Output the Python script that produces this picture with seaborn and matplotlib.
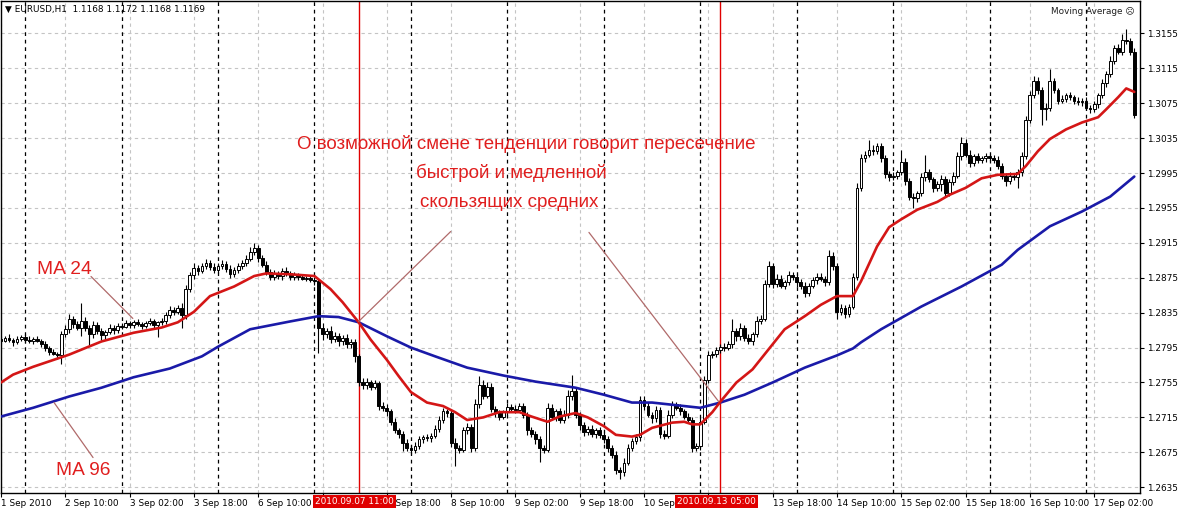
import matplotlib
matplotlib.use("Agg")
import matplotlib.pyplot as plt
import matplotlib.transforms as mtransforms
import numpy as np
import pandas as pd
import seaborn as sns

sns.set_style("white")
plt.rcParams["font.family"] = ["DejaVu Sans"]

# prices are stored as pips above BASE
BASE = 1.2600
PIP = 0.0001

first_open = 205
close_pips = [
    203, 206, 204, 201, 205, 207, 204, 202, 205, 203,
    199, 195, 190, 188, 186, 210, 216, 228, 222, 218,
    226, 218, 210, 221, 214, 209, 213, 218, 215, 220,
    219, 223, 221, 224, 222, 220, 223, 225, 221, 224,
    226, 232, 238, 236, 240, 232, 262, 278, 286, 283,
    289, 292, 287, 284, 289, 291, 285, 279, 284, 288,
    292, 297, 305, 309, 298, 290, 282, 276, 280, 277,
    283, 280, 276, 279, 276, 274, 275, 273, 271, 218,
    210, 214, 205, 208, 203, 206, 199, 201, 185, 156,
    152, 155, 150, 154, 128, 126, 122, 110, 100, 96,
    86, 80, 78, 82, 90, 92, 91, 94, 102, 112,
    122, 120, 86, 80, 78, 100, 104, 80, 130, 152,
    140, 150, 125, 120, 116, 121, 127, 125, 124, 128,
    118, 100, 96, 90, 80, 78, 126, 116, 122, 112,
    118, 140, 145, 118, 106, 98, 102, 96, 100, 95,
    90, 80, 72, 55, 52, 63, 80, 88, 92, 135,
    128, 118, 114, 124, 96, 94, 118, 130, 126, 122,
    116, 112, 80, 82, 110, 158, 186, 188, 192, 196,
    195, 199, 214, 208, 218, 206, 203, 210, 226, 228,
    268, 288, 268, 274, 266, 270, 278, 276, 270, 266,
    258, 266, 272, 276, 274, 270, 300, 288, 236, 240,
    234, 242, 276, 378, 412, 416, 422, 420, 426, 412,
    394, 390, 392, 396, 408, 386, 368, 366, 372, 390,
    396, 388, 378, 382, 388, 372, 385, 392, 414, 430,
    416, 406, 414, 410, 412, 414, 412, 410, 403, 392,
    386, 392, 390, 396, 414, 456, 484, 500, 490, 468,
    470, 500, 490, 478, 480, 484, 482, 478, 476, 478,
    470, 468, 474, 484, 498, 508, 524, 538, 534, 548,
    546, 534, 462,
]
wick_up = [
    3, 2, 4, 2, 3, 2, 3, 4, 2, 3,
    2, 3, 2, 3, 2, 4, 5, 6, 3, 4,
    20, 4, 3, 5, 3, 4, 2, 4, 3, 3,
    3, 4, 2, 3, 4, 2, 3, 4, 3, 2,
    3, 4, 5, 3, 4, 6, 5, 4, 6, 4,
    3, 4, 3, 5, 3, 4, 3, 5, 3, 4,
    3, 4, 5, 6, 4, 3, 4, 3, 4, 3,
    3, 4, 3, 3, 2, 3, 2, 3, 3, 4,
    5, 4, 6, 5, 4, 3, 5, 4, 4, 3,
    4, 5, 3, 4, 3, 5, 4, 3, 4, 3,
    3, 4, 3, 5, 4, 3, 4, 3, 4, 5,
    4, 3, 4, 5, 3, 4, 5, 3, 6, 10,
    6, 5, 4, 3, 4, 3, 4, 3, 4, 3,
    4, 3, 4, 3, 4, 3, 5, 4, 3, 4,
    5, 6, 19, 4, 3, 4, 3, 4, 3, 4,
    3, 4, 3, 4, 3, 5, 4, 3, 4, 5,
    4, 5, 3, 4, 3, 4, 5, 4, 3, 4,
    3, 4, 3, 4, 5, 4, 5, 3, 4, 3,
    4, 3, 14, 4, 5, 3, 4, 3, 5, 4,
    5, 6, 4, 5, 4, 3, 5, 4, 3, 4,
    4, 3, 4, 5, 4, 3, 7, 5, 4, 5,
    4, 3, 5, 6, 5, 4, 11, 5, 4, 3,
    4, 3, 4, 3, 14, 4, 3, 4, 3, 5,
    20, 4, 3, 4, 5, 4, 3, 4, 5, 6,
    4, 5, 3, 4, 3, 4, 3, 4, 5, 4,
    3, 4, 3, 4, 5, 4, 5, 6, 5, 4,
    5, 14, 4, 3, 4, 3, 4, 3, 4, 3,
    4, 3, 4, 3, 5, 4, 5, 4, 5, 6,
    12, 4, 4,
]
wick_dn = [
    3, 2, 3, 4, 2, 3, 4, 2, 3, 2,
    3, 4, 3, 2, 4, 10, 3, 4, 5, 3,
    10, 4, 12, 4, 3, 5, 4, 3, 4, 3,
    3, 2, 4, 3, 2, 4, 3, 2, 4, 14,
    3, 4, 3, 4, 3, 14, 4, 3, 4, 5,
    3, 4, 3, 4, 3, 4, 3, 4, 3, 4,
    3, 4, 3, 4, 5, 3, 4, 3, 4, 3,
    4, 3, 3, 4, 3, 2, 3, 3, 4, 29,
    6, 4, 5, 4, 6, 5, 4, 5, 6, 5,
    4, 5, 4, 3, 5, 4, 5, 4, 3, 5,
    10, 4, 5, 4, 3, 4, 3, 4, 3, 4,
    3, 4, 5, 21, 4, 3, 4, 5, 3, 4,
    4, 3, 4, 5, 4, 3, 4, 3, 4, 3,
    4, 5, 4, 5, 16, 4, 3, 4, 5, 4,
    3, 4, 5, 4, 5, 4, 3, 4, 5, 4,
    4, 5, 4, 5, 8, 4, 3, 4, 3, 4,
    4, 3, 5, 4, 5, 4, 3, 4, 3, 4,
    3, 4, 5, 3, 4, 3, 4, 3, 4, 3,
    4, 3, 4, 5, 4, 3, 4, 5, 3, 4,
    3, 4, 5, 4, 3, 4, 3, 4, 5, 4,
    5, 4, 3, 4, 3, 4, 3, 4, 8, 4,
    5, 4, 3, 4, 3, 4, 3, 4, 3, 4,
    5, 4, 3, 4, 3, 5, 4, 11, 4, 3,
    4, 3, 5, 4, 7, 4, 3, 4, 3, 4,
    3, 4, 3, 4, 3, 4, 3, 4, 3, 4,
    6, 4, 3, 12, 4, 3, 4, 3, 4, 18,
    12, 4, 3, 4, 3, 4, 3, 4, 3, 4,
    3, 4, 3, 4, 3, 4, 3, 4, 3, 4,
    3, 4, 4,
]

# moving averages (bar index, pips)
ma24_bar = [0, 3, 8, 17, 25, 33, 40, 44, 48, 52, 58, 63, 66, 72, 78, 82, 85, 89, 92, 96,
            99, 102, 106, 110, 113, 116, 120, 124, 129, 132, 136, 139, 143, 146, 150, 153,
            157, 159, 162, 167, 170, 172, 174, 177, 179, 183, 187, 191, 195, 200, 204, 208,
            212, 214, 218, 221, 224, 228, 233, 236, 240, 244, 248, 253, 255, 258, 261, 265,
            269, 273, 275, 278, 280, 282]
ma24_pips = [155, 164, 173, 187, 202, 212, 218, 224, 236, 254, 265, 277, 280, 279, 277, 262,
             247, 224, 204, 181, 162, 144, 132, 128, 121, 112, 115, 121, 121, 116, 110, 116,
             120, 115, 105, 95, 93, 95, 103, 109, 110, 107, 107, 121, 133, 155, 170, 193,
             216, 231, 244, 254, 254, 271, 311, 333, 342, 353, 362, 370, 378, 389, 393, 394,
             403, 420, 434, 445, 453, 459, 468, 482, 492, 488]
ma96_bar = [0, 8, 17, 25, 33, 42, 50, 54, 62, 72, 79, 84, 89, 96, 102, 108, 116, 125, 133,
            143, 150, 157, 162, 168, 174, 179, 185, 192, 200, 208, 212, 214, 219, 229, 239,
            249, 253, 261, 269, 276, 282]
ma96_pips = [116, 126, 139, 149, 161, 171, 185, 196, 216, 225, 231, 230, 224, 208, 195, 185,
             172, 163, 156, 149, 141, 132, 132, 129, 126, 132, 141, 155, 172, 186, 194, 201,
             216, 242, 265, 290, 307, 334, 351, 368, 391]

tick_bars = [0, 16, 32, 48, 64, 80, 96, 112, 128, 144, 160, 176, 192, 208, 224, 240, 256, 272]
# labels completely hidden under the red time markers are left blank
tick_labels = ["1 Sep 2010", "2 Sep 10:00", "3 Sep 02:00", "3 Sep 18:00", "6 Sep 10:00",
               "", "7 Sep 18:00", "8 Sep 10:00", "9 Sep 02:00", "9 Sep 18:00",
               "10 Sep 10:00", "", "13 Sep 18:00", "14 Sep 10:00", "15 Sep 02:00",
               "15 Sep 18:00", "16 Sep 10:00", "17 Sep 02:00"]
day_starts = [6, 30, 54, 78, 102, 126, 150, 174, 198, 222, 246, 270]
price_ticks = [1.2635, 1.2675, 1.2715, 1.2755, 1.2795, 1.2835, 1.2875, 1.2915, 1.2955,
               1.2995, 1.3035, 1.3075, 1.3115, 1.3155]
marker_bars = [89, 179]
marker_labels = ["2010.09.07 11:00", "2010.09.13 05:00"]

note_lines = ["О возможной смене тенденции говорит пересечение",
              "быстрой и медленной",
              "скользящих средних"]

RED = "#e01e1e"
POINTER = "#b06a6a"

n = len(close_pips)
bars = np.arange(n)
close = BASE + np.array(close_pips) * PIP
open_ = np.concatenate([[BASE + first_open * PIP], close[:-1]])
body_lo = np.minimum(open_, close)
body_hi = np.maximum(open_, close)
high = body_hi + np.array(wick_up[:n]) * PIP
low = body_lo - np.array(wick_dn[:n]) * PIP

fig = plt.figure(figsize=(11.8, 5.13), dpi=100)
ax = fig.add_axes([1 / 1180, 20 / 513, 1139 / 1180, 492 / 513])

# grid + day separators
ax.set_axisbelow(True)
ax.grid(True, color="#c4c4c4", linestyle=(0, (3, 3)), linewidth=0.8)
for d in day_starts:
    ax.axvline(d, color="black", linestyle=(0, (3, 3)), linewidth=0.9, zorder=1.5)
for b in marker_bars:
    ax.axvline(b, color="#e00000", linewidth=1.0, zorder=2)

# candles
ax.vlines(bars, low, high, color="black", linewidth=0.8, zorder=3)
bull = close >= open_
ax.bar(bars, body_hi - body_lo, bottom=body_lo, width=0.7,
       color=np.where(bull, "white", "black"), edgecolor="black", linewidth=0.7, zorder=4)

# moving averages
ma24 = pd.DataFrame({"bar": ma24_bar, "price": BASE + np.array(ma24_pips) * PIP})
ma96 = pd.DataFrame({"bar": ma96_bar, "price": BASE + np.array(ma96_pips) * PIP})
sns.lineplot(data=ma96, x="bar", y="price", color="#1a1aa8", linewidth=1.9, ax=ax, zorder=5)
sns.lineplot(data=ma24, x="bar", y="price", color="#d41616", linewidth=1.9, ax=ax, zorder=5)

# pointer lines
pointers = [((22.4, 276.5), (32.8, 228.4)), ((13.2, 132), (22.9, 69)),
            ((89, 225), (111.9, 328)), ((146.3, 327), (178.6, 133))]
for (x0, p0), (x1, p1) in pointers:
    ax.plot([x0, x1], [BASE + p0 * PIP, BASE + p1 * PIP], color=POINTER, linewidth=0.9, zorder=6)

ax.text(9, BASE + 285 * PIP, "MA 24", color=RED, fontsize=13.8, family="Liberation Sans",
        va="center", ha="left", zorder=7)
ax.text(13.7, BASE + 54 * PIP, "MA 96", color=RED, fontsize=13.8, family="Liberation Sans",
        va="center", ha="left", zorder=7)
for (bx, py), line in zip([(130.6, 428), (126.9, 395), (126.4, 361)], note_lines):
    ax.text(bx, BASE + py * PIP, line, color=RED, fontsize=13.5, family="Liberation Sans",
            va="center", ha="center", zorder=7)

ax.set_xlim(0.24, 283.42)
ax.set_ylim(1.262835, 1.31922)
ax.set(xlabel="", ylabel="")

ax.yaxis.tick_right()
ax.set_yticks(price_ticks)
ax.set_yticklabels([f"{p:.4f}" for p in price_ticks])
ax.set_xticks(tick_bars)
ax.set_xticklabels(tick_labels, ha="left")
ax.tick_params(axis="both", labelsize=6.4, length=3, width=0.8, color="black",
               labelcolor="black")
ax.tick_params(axis="x", pad=1.5, direction="out", bottom=True)
ax.tick_params(axis="y", pad=2, direction="out", right=True, left=False)
for s in ax.spines.values():
    s.set_color("black")
    s.set_linewidth(1.0)

# red time markers on the time axis
trans = mtransforms.blended_transform_factory(ax.transData, ax.transAxes)
for b, lab in zip(marker_bars, marker_labels):
    ax.text(b - 1, -0.0175, lab, transform=trans, ha="center", va="center", fontsize=6.4,
            color="white", clip_on=False, zorder=20,
            bbox=dict(boxstyle="square,pad=0.25", facecolor="#e00000", edgecolor="none"))

fig.text(5 / 1180, 1 - 9 / 513, "▼ EURUSD,H1  1.1168 1.1172 1.1168 1.1169", fontsize=6.4,
         va="center", ha="left", color="black")
fig.text(1135 / 1180, 1 - 12 / 513, "Moving Average ☹", fontsize=6.4, va="center",
         ha="right", color="#202020")

fig.savefig("out.png", dpi=100, facecolor="white")
